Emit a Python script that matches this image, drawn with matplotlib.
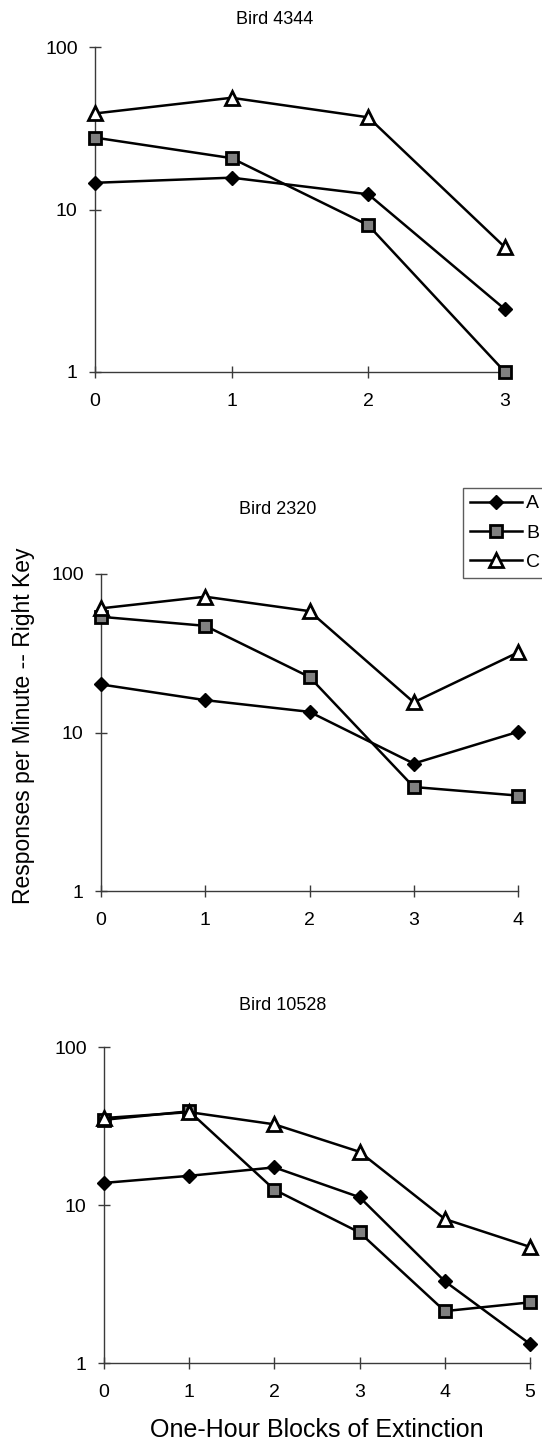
import matplotlib
matplotlib.use("Agg")
import matplotlib.pyplot as plt
from matplotlib.lines import Line2D

plt.rcParams['font.family'] = ['Liberation Sans', 'DejaVu Sans']

# ---- data ----
titles = ["Bird 4344", "Bird 2320", "Bird 10528"]
series_names = ["A", "B", "C"]

x_4344 = [0, 1, 2, 3]
a_4344 = [14.6, 15.7, 12.4, 2.43]
b_4344 = [27.7, 20.7, 8.0, 1.0]
c_4344 = [39.0, 48.7, 36.9, 5.85]

x_2320 = [0, 1, 2, 3, 4]
a_2320 = [20.1, 16.0, 13.5, 6.37, 10.1]
b_2320 = [53.7, 47.1, 22.4, 4.53, 4.0]
c_2320 = [60.7, 71.9, 58.3, 15.5, 32.0]

x_10528 = [0, 1, 2, 3, 4, 5]
a_10528 = [13.8, 15.3, 17.3, 11.2, 3.29, 1.32]
b_10528 = [34.6, 39.2, 12.5, 6.7, 2.13, 2.42]
c_10528 = [35.5, 38.7, 32.4, 21.7, 8.15, 5.43]

y_ticks = [1, 10, 100]
y_ticklabels = ["1", "10", "100"]

# ---- layout ----
W, H = 542, 1446
fig = plt.figure(figsize=(W / 100, H / 100), dpi=100)

def px_axes(left, right, top, bottom):
    return fig.add_axes([left / W, 1 - bottom / H, (right - left) / W, (bottom - top) / H])

panels = [
    (px_axes(95, 505, 47, 372), x_4344, [a_4344, b_4344, c_4344], (275, 20)),
    (px_axes(101, 518, 574, 891), x_2320, [a_2320, b_2320, c_2320], (278, 509)),
    (px_axes(104, 530, 1047, 1363), x_10528, [a_10528, b_10528, c_10528], (283, 1005)),
]

styles = [
    dict(marker='D', ms=7.5, mfc='black', mec='black', mew=1.0),
    dict(marker='s', ms=8.5, mfc='0.5', mec='black', mew=2.0),
    dict(marker='^', ms=9.5, mfc='white', mec='black', mew=2.0),
]

spine_col = '#3a3a3a'
for (ax, xs, ys_list, (tx, ty)), title in zip(panels, titles):
    for ys, st, name in zip(ys_list, styles, series_names):
        ax.plot(xs, ys, color='black', lw=1.8, clip_on=False, zorder=3, label=name, **st)
    ax.set_yscale('log')
    ax.set_ylim(1, 100)
    ax.set_xlim(xs[0], xs[-1])
    ax.set_xticks(xs)
    ax.set_xticklabels([str(v) for v in xs])
    ax.set_yticks(y_ticks)
    ax.set_yticklabels(y_ticklabels)
    ax.yaxis.set_minor_locator(matplotlib.ticker.NullLocator())
    for s in ['top', 'right']:
        ax.spines[s].set_visible(False)
    for s in ['left', 'bottom']:
        ax.spines[s].set_color(spine_col)
        ax.spines[s].set_linewidth(1.0)
    ax.tick_params(axis='y', direction='inout', length=9, width=1.0, color=spine_col,
                   labelsize=14, pad=8)
    ax.tick_params(axis='x', direction='inout', length=8, width=1.0, color=spine_col,
                   labelsize=14, pad=11)
    fig.text(tx / W, 1 - ty / H, title, ha='center', va='center', fontsize=13)

# legend
handles = [Line2D([], [], color='black', lw=1.8, **st) for st in styles]
leg = fig.legend(handles, series_names, loc='upper left',
                 bbox_to_anchor=(463 / W, 1 - 488 / H), fontsize=14,
                 frameon=True, fancybox=False, handlelength=2.7, handletextpad=0.2,
                 labelspacing=0.6, borderpad=0.35, borderaxespad=0)
leg.get_frame().set_edgecolor('#333333')
leg.get_frame().set_linewidth(1.0)

fig.text(24 / W, 1 - 726 / H, "Responses per Minute -- Right Key", rotation=90,
         ha='center', va='center', fontsize=16.5)
fig.text(317 / W, 1 - 1430 / H, "One-Hour Blocks of Extinction",
         ha='center', va='center', fontsize=18)

fig.savefig("out.png", dpi=100)
